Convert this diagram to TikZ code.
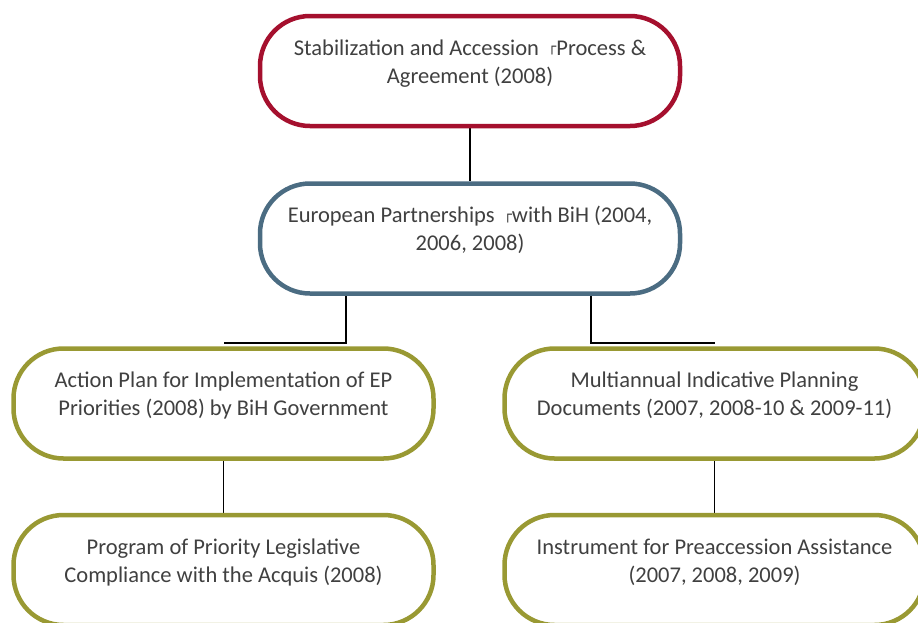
\documentclass[tikz,border=0pt]{standalone}
\usepackage{fontspec}
\setmainfont{Carlito}
\newfontfamily\boxfont{DejaVu Sans}
\usetikzlibrary{positioning,backgrounds}
\definecolor{sared}{RGB}{165,16,46}
\definecolor{epblue}{RGB}{75,108,130}
\definecolor{plangreen}{RGB}{153,153,51}
\definecolor{txtgray}{RGB}{64,64,64}
% the small corner mark that stands in front of a word
\newcommand{\cornermark}{{\boxfont\fontsize{14}{14}\selectfont\raisebox{3.5pt}{┌}}}
\tikzset{box/.style={draw=#1, line width=4.5pt, rounded corners=50pt, fill=white,
  minimum width=420pt, minimum height=110pt, align=center, text=txtgray,
  font=\fontsize{22.5}{28}\selectfont, text height=40pt, text depth=16pt},
box/.default={plangreen},
link/.style={draw=black, line width=1.6pt}}

\begin{document}
\begin{tikzpicture}[x=1pt,y=-1pt]
		\useasboundingbox (0,0) rectangle (918,622);

		\node[box=sared] (sap) at (470,71) {Stabilization and Accession \,\cornermark Process \&\\Agreement (2008)};
		\node[box=epblue] (ep) at (470,238.5) {European Partnerships \,\cornermark with BiH (2004,\\2006, 2008)};
		\node[box] (ap) at (223.5,403.5) {Action Plan for Implementation of EP\\Priorities (2008) by BiH Government};
		\node[box] (mip) at (714.5,403.5) {Multiannual Indicative Planning\\Documents (2007, 2008-10 \& 2009-11)};
		\node[box] (ppl) at (223.5,570) {Program of Priority Legislative\\Compliance with the Acquis (2008)};
		\node[box] (ipa) at (714.5,570) {Instrument for Preaccession Assistance\\(2007, 2008, 2009)};

		% connectors go behind the boxes
		\begin{pgfonlayer}{background}
		\draw[link]
		(sap) -- (ep)
		([xshift=-124pt]ep.center) |- ([yshift=3.5pt]ap.north)
		([xshift=121pt]ep.center) |- ([yshift=3.5pt]mip.north)
		(ap) -- (ppl)
		(mip) -- (ipa)
		;
		\end{pgfonlayer}

	\end{tikzpicture}
\end{document}
